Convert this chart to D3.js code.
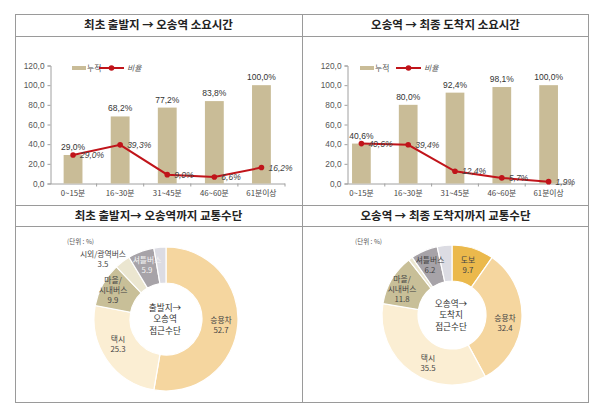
<!DOCTYPE html>
<html><head><meta charset="utf-8">
<script src="https://cdn.jsdelivr.net/npm/d3@7"></script>
<style>
html,body{margin:0;padding:0;background:#fff;}
svg{display:block;}
</style></head>
<body>
<svg id="c" width="600" height="406"></svg>
<script>
// ---------- data ----------
const timeCategories = ["0~15분", "16~30분", "31~45분", "46~60분", "61분이상"];
const yTicks = [0, 20, 40, 60, 80, 100, 120];

const leftCumulative = [29.0, 68.2, 77.2, 83.8, 100.0];
const leftRatio = [29.0, 39.3, 9.0, 6.6, 16.2];
const rightCumulative = [40.6, 80.0, 92.4, 98.1, 100.0];
const rightRatio = [40.6, 39.4, 12.4, 5.7, 1.9];

const titles = ["최초 출발지 → 오송역 소요시간", "오송역 → 최종 도착지 소요시간",
                "최초 출발지→ 오송역까지 교통수단", "오송역 → 최종 도착지까지 교통수단"];
const legendNames = ["누적", "비율"];

const leftModes = ["승용차", "택시", "마을/시내버스", "시외/광역버스", "셔틀버스", "기타"];
const leftShares = [52.7, 25.3, 9.9, 3.5, 5.9, 2.7];
const rightModes = ["도보", "승용차", "택시", "마을/시내버스", "시외/광역버스", "셔틀버스", "기타"];
const rightShares = [9.7, 32.4, 35.5, 11.8, 1.0, 6.2, 3.4];

const unitLabel = "(단위 : %)";
const leftCenter = ["출발지→", "오송역", "접근수단"];
const rightCenter = ["오송역→", "도착지", "접근수단"];

// ---------- styles ----------
const KR = "'Noto Sans CJK KR', 'Noto Sans', sans-serif";
const NUM = "'Liberation Sans', Arial, sans-serif";
const modeColor = {
  "도보": "#ebb94c",
  "승용차": "#f5d69f",
  "택시": "#fbeed3",
  "마을/시내버스": "#c8bf98",
  "시외/광역버스": "#ebe6d0",
  "셔틀버스": "#a7a3a8",
  "기타": "#dcdce3"
};
const barColor = "#c9bc97";
const lineColor = "#c0141a";

const svg = d3.select("#c");

// ---------- table frame ----------
const frame = svg.append("g").attr("stroke", "#9a9a9a").attr("stroke-width", 1).attr("fill", "none");
[14.5, 36.5, 205.5, 226.5, 402.5].forEach(y =>
  frame.append("line").attr("x1", 15).attr("x2", 589).attr("y1", y).attr("y2", y));
[15.5, 302.5, 588.5].forEach(x =>
  frame.append("line").attr("x1", x).attr("x2", x).attr("y1", 14).attr("y2", 403));

const titlePos = [[158.5, 26], [445.5, 26], [158.5, 217], [445.5, 217]];
titles.forEach((t, i) => {
  svg.append("text").attr("x", titlePos[i][0]).attr("y", titlePos[i][1])
    .attr("text-anchor", "middle").attr("dominant-baseline", "middle")
    .attr("font-family", KR).attr("font-size", 11.5).attr("font-weight", 700)
    .attr("fill", "#222").text(t);
});

const fmt1 = v => d3.format(".1f")(v).replace(".", ",");

// ---------- combo charts ----------
function combo(cfg) {
  const g = svg.append("g");
  const y = d3.scaleLinear().domain([0, 120]).range([183.5, 65.5]);
  const x = d3.scaleBand().domain(timeCategories).range(cfg.xRange)
    .paddingInner(0.6).paddingOuter(0.3);

  // y axis
  const ya = d3.axisLeft(y).tickValues(yTicks).tickSize(3).tickPadding(3).tickFormat(fmt1);
  const yg = g.append("g").attr("transform", `translate(${cfg.axisX},0)`).call(ya);
  yg.select(".domain").attr("stroke", "#a0a0a0");
  yg.selectAll(".tick line").attr("stroke", "#a0a0a0");
  yg.selectAll("text").attr("font-family", NUM).attr("font-size", 8.3).attr("fill", "#555");

  // x axis
  const ax = g.append("g");
  const xEnd = cfg.xRange[1];
  ax.append("line").attr("x1", cfg.axisX).attr("x2", xEnd).attr("y1", y(0) + 0.5).attr("y2", y(0) + 0.5)
    .attr("stroke", "#a0a0a0");
  const step = x.step();
  const bounds = timeCategories.map((c, i) => x(c) - (step - x.bandwidth()) / 2).concat([xEnd]);
  bounds.slice(1).forEach(bx => ax.append("line").attr("x1", bx).attr("x2", bx)
    .attr("y1", y(0)).attr("y2", y(0) + 3).attr("stroke", "#a0a0a0"));
  ax.selectAll("text.xl").data(timeCategories).join("text")
    .attr("x", d => x(d) + x.bandwidth() / 2).attr("y", 196)
    .attr("text-anchor", "middle").attr("font-family", KR).attr("font-size", 7.8)
    .attr("fill", "#444").text(d => d);

  // bars
  g.selectAll("rect.bar").data(cfg.cum).join("rect")
    .attr("x", (d, i) => x(timeCategories[i])).attr("width", x.bandwidth())
    .attr("y", d => y(d)).attr("height", d => y(0) - y(d)).attr("fill", barColor);
  g.selectAll("text.bl").data(cfg.cum).join("text")
    .attr("x", (d, i) => x(timeCategories[i]) + x.bandwidth() / 2).attr("y", d => y(d) - 5)
    .attr("text-anchor", "middle").attr("font-family", NUM).attr("font-size", 8.5)
    .attr("fill", "#333").text(d => fmt1(d) + "%");

  // line
  const cx = (d, i) => x(timeCategories[i]) + x.bandwidth() / 2;
  const line = d3.line().x(cx).y(d => y(d)).curve(d3.curveLinear);
  g.append("path").datum(cfg.ratio).attr("d", line).attr("fill", "none")
    .attr("stroke", lineColor).attr("stroke-width", 2);
  g.selectAll("circle.pt").data(cfg.ratio).join("circle")
    .attr("cx", cx).attr("cy", d => y(d)).attr("r", 2.8).attr("fill", lineColor);
  g.selectAll("text.ll").data(cfg.ratio).join("text")
    .attr("x", (d, i) => cx(d, i) + 7).attr("y", d => y(d) + 3)
    .attr("font-family", NUM).attr("font-size", 8.5).attr("font-style", "italic")
    .attr("fill", "#444").text(d => fmt1(d) + "%");

  // legend
  const L = cfg.legend;
  g.append("rect").attr("x", L.bx).attr("y", 66).attr("width", 14).attr("height", 4).attr("fill", barColor);
  g.append("text").attr("x", L.bx + 15).attr("y", 71).attr("font-family", KR).attr("font-size", 7.8)
    .attr("fill", "#555").text(legendNames[0]);
  g.append("line").attr("x1", L.lx).attr("x2", L.lx + 25).attr("y1", 68).attr("y2", 68)
    .attr("stroke", lineColor).attr("stroke-width", 2);
  g.append("circle").attr("cx", L.lx + 12.5).attr("cy", 68).attr("r", 2.8).attr("fill", lineColor);
  g.append("text").attr("x", L.lx + 28).attr("y", 71).attr("font-family", KR).attr("font-size", 7.8)
    .attr("font-style", "italic").attr("fill", "#555").text(legendNames[1]);
}

combo({ axisX: 50.5, xRange: [49.5, 285], cum: leftCumulative, ratio: leftRatio, legend: { bx: 72, lx: 99 } });
combo({ axisX: 347.5, xRange: [338, 572], cum: rightCumulative, ratio: rightRatio, legend: { bx: 360, lx: 396 } });

// ---------- donuts ----------
function donut(cfg) {
  const g = svg.append("g").attr("transform", `translate(${cfg.cx},${cfg.cy})`);
  const pie = d3.pie().sort(null).value(d => d.v);
  const arc = d3.arc().innerRadius(cfg.ri).outerRadius(cfg.ro);
  const data = cfg.modes.map((m, i) => ({ m, v: cfg.shares[i] }));
  g.selectAll("path").data(pie(data)).join("path")
    .attr("d", arc).attr("fill", d => modeColor[d.data.m])
    .attr("stroke", "#fff").attr("stroke-width", 1.2);

  // labels
  cfg.labels.forEach(lb => {
    const t = svg.append("text").attr("text-anchor", "middle")
      .attr("font-family", KR).attr("font-size", 7.8).attr("fill", lb.color || "#444");
    lb.lines.forEach((s, k) => t.append("tspan").attr("x", lb.x).attr("y", lb.y + k * (lb.gap || 10)).text(s));
  });

  svg.append("text").attr("x", cfg.unit[0]).attr("y", cfg.unit[1]).attr("font-family", KR)
    .attr("font-size", 6.5).attr("fill", "#555").text(unitLabel);

  cfg.center.forEach((s, k) => svg.append("text").attr("text-anchor", "middle").attr("font-family", KR)
    .attr("font-size", 8.6).attr("fill", "#333")
    .attr("x", cfg.cx - 1).attr("y", cfg.cy - 8.5 + k * 11.5).text(s));
}

donut({
  cx: 166, cy: 319, ri: 36, ro: 72,
  modes: leftModes, shares: leftShares, center: leftCenter, unit: [67, 244],
  labels: [
    { x: 221, y: 323, lines: [leftModes[0], leftShares[0].toFixed(1)] },
    { x: 118, y: 342, lines: [leftModes[1], leftShares[1].toFixed(1)] },
    { x: 113, y: 283, lines: ["마을/", "시내버스", leftShares[2].toFixed(1)], gap: 10 },
    { x: 103, y: 257, lines: [leftModes[3], leftShares[3].toFixed(1)] },
    { x: 147, y: 263, lines: [leftModes[4], leftShares[4].toFixed(1)], color: "#f4f4f4" }
  ]
});

donut({
  cx: 452, cy: 315, ri: 34, ro: 70,
  modes: rightModes, shares: rightShares, center: rightCenter, unit: [355, 244],
  labels: [
    { x: 468, y: 263, lines: [rightModes[0], rightShares[0].toFixed(1)] },
    { x: 505, y: 321, lines: [rightModes[1], rightShares[1].toFixed(1)] },
    { x: 428, y: 361, lines: [rightModes[2], rightShares[2].toFixed(1)] },
    { x: 402, y: 282, lines: ["마을/", "시내버스", rightShares[3].toFixed(1)], gap: 10 },
    { x: 430, y: 263, lines: [rightModes[5], rightShares[5].toFixed(1)] }
  ]
});
</script>
</body></html>
